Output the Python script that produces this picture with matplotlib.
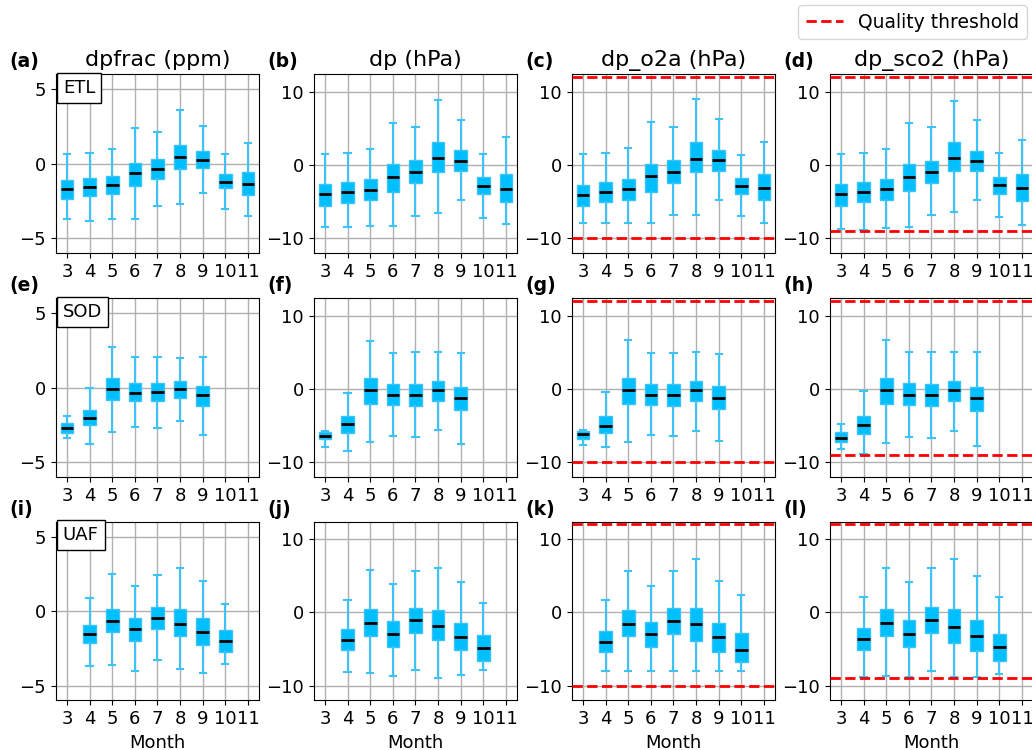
import matplotlib
matplotlib.use("Agg")
import matplotlib.pyplot as plt
from matplotlib.lines import Line2D

months = [3, 4, 5, 6, 7, 8, 9, 10, 11]
month_labels = ["3", "4", "5", "6", "7", "8", "9", "10", "11"]

titles = ["dpfrac (ppm)", "dp (hPa)", "dp_o2a (hPa)", "dp_sco2 (hPa)"]
sites = ["ETL", "SOD", "UAF"]
panel_letters = ["a", "b", "c", "d", "e", "f", "g", "h", "i", "j", "k", "l"]

# each entry: (whislo, q1, med, q3, whishi) per month; None = no data
# ---- ETL ----
etl_dpfrac = [(-3.70, -2.40, -1.70, -1.08, 0.63), (-3.88, -2.17, -1.59, -0.96, 0.74),
              (-3.74, -2.02, -1.41, -0.81, 0.99), (-3.72, -1.50, -0.65, 0.07, 2.38),
              (-2.85, -1.01, -0.38, 0.29, 2.13), (-2.69, -0.34, 0.45, 1.28, 3.63),
              (-1.97, -0.31, 0.27, 0.85, 2.51), (-3.05, -1.66, -1.21, -0.72, 0.67),
              (-3.52, -2.11, -1.37, -0.54, 1.41)]
etl_dp = [(-8.45, -5.64, -4.00, -2.64, 1.45), (-8.45, -5.18, -3.73, -2.36, 1.68),
          (-8.27, -4.82, -3.36, -1.95, 2.23), (-8.36, -3.64, -1.64, 0.18, 5.73),
          (-6.91, -2.50, -0.95, 0.64, 5.18), (-6.55, -0.91, 0.95, 3.09, 8.91),
          (-4.82, -0.86, 0.59, 2.00, 6.14), (-7.18, -3.95, -2.86, -1.68, 1.55),
          (-8.05, -5.00, -3.23, -1.27, 3.82)]
etl_o2a = [(-7.92, -5.66, -4.07, -2.76, 1.49), (-7.92, -5.11, -3.71, -2.35, 1.58),
           (-7.92, -4.75, -3.26, -1.95, 2.26), (-7.92, -3.62, -1.49, 0.18, 5.84),
           (-6.79, -2.44, -0.95, 0.68, 5.20), (-6.79, -1.00, 0.86, 3.12, 9.05),
           (-4.75, -0.81, 0.63, 2.08, 6.20), (-6.97, -3.94, -2.85, -1.72, 1.31),
           (-7.92, -4.80, -3.17, -1.18, 3.17)]
etl_sco2 = [(-8.78, -5.63, -3.92, -2.57, 1.49), (-8.92, -5.09, -3.69, -2.39, 1.67),
            (-8.56, -4.82, -3.29, -1.98, 2.21), (-8.51, -3.60, -1.62, 0.14, 5.68),
            (-6.80, -2.43, -0.95, 0.59, 5.14), (-6.44, -0.86, 0.99, 3.06, 8.74),
            (-4.73, -0.81, 0.59, 1.94, 6.08), (-7.16, -3.92, -2.79, -1.71, 1.58),
            (-8.20, -4.91, -3.20, -1.26, 3.33)]
# ---- SOD ----
sod_dpfrac = [(-3.38, -3.02, -2.71, -2.37, -1.92), (-3.79, -2.53, -2.01, -1.47, -0.01),
              (-2.98, -0.84, -0.06, 0.62, 2.73), (-2.66, -0.89, -0.33, 0.30, 2.08),
              (-2.71, -0.93, -0.30, 0.30, 2.08), (-2.24, -0.69, -0.08, 0.44, 2.01),
              (-3.18, -1.21, -0.51, 0.12, 2.06), None, None]
sod_dp = [(-7.93, -6.85, -6.40, -5.86, -5.77), (-8.42, -5.99, -4.82, -3.65, -0.50),
          (-7.21, -2.07, -0.14, 1.49, 6.58), (-6.35, -2.21, -0.77, 0.72, 4.86),
          (-6.53, -2.30, -0.81, 0.72, 5.05), (-5.63, -1.67, -0.18, 1.08, 5.05),
          (-7.52, -2.88, -1.22, 0.27, 4.86), None, None]
sod_o2a = [(-7.61, -6.76, -6.13, -5.68, -5.63), (-7.93, -5.99, -5.00, -3.69, -0.41),
           (-7.21, -2.07, -0.14, 1.49, 6.62), (-6.26, -2.21, -0.77, 0.68, 4.91),
           (-6.44, -2.30, -0.77, 0.68, 4.95), (-5.68, -1.71, -0.18, 1.08, 5.00),
           (-7.16, -2.70, -1.17, 0.36, 4.77), None, None]
sod_sco2 = [(-8.24, -7.25, -6.62, -5.81, -4.73), (-8.87, -6.08, -4.95, -3.65, -0.23),
            (-7.30, -2.07, -0.09, 1.49, 6.71), (-6.53, -2.25, -0.77, 0.77, 5.09),
            (-6.62, -2.30, -0.77, 0.72, 5.09), (-5.68, -1.67, -0.18, 1.08, 5.09),
            (-7.75, -3.02, -1.17, 0.32, 5.09), None, None]
# ---- UAF ----
uaf_dpfrac = [None, (-3.72, -2.17, -1.52, -0.93, 0.87), (-3.61, -1.38, -0.64, 0.17, 2.51),
              (-4.03, -1.99, -1.22, -0.48, 1.70), (-3.29, -1.18, -0.46, 0.28, 2.39),
              (-3.88, -1.70, -0.87, 0.17, 2.91), (-4.19, -2.26, -1.38, -0.48, 2.03),
              (-3.54, -2.73, -1.99, -1.27, 0.44), None]
uaf_dp = [None, (-8.19, -5.17, -3.72, -2.28, 1.74), (-8.24, -3.23, -1.47, 0.47, 5.76),
          (-8.65, -4.67, -2.91, -1.20, 3.91), (-7.88, -2.87, -1.11, 0.65, 5.67),
          (-8.92, -3.81, -1.92, 0.25, 6.03), (-8.56, -5.12, -3.32, -1.42, 4.09),
          (-7.92, -6.61, -4.81, -3.09, 1.24), None]
uaf_o2a = [None, (-7.97, -5.40, -4.00, -2.51, 1.69), (-7.97, -3.23, -1.56, 0.38, 5.58),
           (-7.97, -4.67, -3.00, -1.33, 3.59), (-7.97, -2.96, -1.20, 0.56, 5.62),
           (-7.97, -3.95, -1.60, 0.61, 7.25), (-7.97, -5.35, -3.41, -1.47, 4.27),
           (-7.97, -6.79, -5.08, -2.87, 2.37), None]
uaf_sco2 = [None, (-8.78, -5.12, -3.59, -2.10, 2.14), (-8.65, -3.23, -1.42, 0.52, 6.07),
            (-8.78, -4.76, -2.91, -1.11, 4.18), (-8.01, -2.78, -1.02, 0.79, 6.03),
            (-8.78, -4.18, -2.01, 0.47, 7.25), (-8.87, -5.26, -3.27, -1.06, 4.90),
            (-8.38, -6.66, -4.76, -3.00, 2.05), None]

panels = [[etl_dpfrac, etl_dp, etl_o2a, etl_sco2],
          [sod_dpfrac, sod_dp, sod_o2a, sod_sco2],
          [uaf_dpfrac, uaf_dp, uaf_o2a, uaf_sco2]]

# quality thresholds per column (None = no threshold)
thresholds = [None, None, (-10, 12), (-9, 12)]
ylims = [(-6, 6), (-12, 12.35), (-12, 12.35), (-12, 12.35)]
yticks = [[-5, 0, 5], [-10, 0, 10], [-10, 0, 10], [-10, 0, 10]]

BOX = "#00BFFF"
WHISK = "#3CC3F7"

fig = plt.figure(figsize=(10.32, 7.5), dpi=100)
W, H = 1032.0, 750.0
col_left = [55.7, 313.7, 571.7, 829.7]
ax_w = 203.5
row_top = [74.3, 298.3, 521.7]
ax_h = 178.7

k = 0
for r in range(3):
    for c in range(4):
        ax = fig.add_axes([col_left[c] / W, 1 - (row_top[r] + ax_h) / H, ax_w / W, ax_h / H])
        stats = []
        pos = []
        for m, s in zip(months, panels[r][c]):
            if s is None:
                continue
            lo, q1, med, q3, hi = s
            stats.append(dict(whislo=lo, q1=q1, med=med, q3=q3, whishi=hi, fliers=[]))
            pos.append(m)
        ax.bxp(stats, positions=pos, widths=0.56, patch_artist=True, showfliers=False,
               boxprops=dict(facecolor=BOX, edgecolor=WHISK, linewidth=1.0),
               whiskerprops=dict(color=WHISK, linewidth=1.5),
               capprops=dict(color=WHISK, linewidth=1.5),
               medianprops=dict(color="black", linewidth=2.0))
        ax.set_xlim(2.5, 11.5)
        ax.set_xticks(months)
        ax.set_xticklabels(month_labels)
        ax.set_ylim(*ylims[c])
        ax.set_yticks(yticks[c])
        ax.tick_params(labelsize=13)
        ax.grid(True, color="#b0b0b0", linewidth=1.0)
        ax.set_axisbelow(True)
        if thresholds[c] is not None:
            for t in thresholds[c]:
                ax.axhline(t, color="red", linestyle="--", linewidth=2, zorder=5)
        if r == 0:
            ax.set_title(titles[c], fontsize=16, pad=6)
        if r == 2:
            ax.set_xlabel("Month", fontsize=13)
        if c == 0:
            ax.text(0.035, 0.975, sites[r], transform=ax.transAxes, fontsize=13,
                    va="top", ha="left",
                    bbox=dict(facecolor="white", edgecolor="black", boxstyle="square,pad=0.33"))
        ax.text(-0.228, 1.07, "(" + panel_letters[k] + ")", transform=ax.transAxes,
                fontsize=13.5, fontweight="bold", va="center", ha="left")
        k += 1

handle = Line2D([0], [0], color="red", linestyle="--", linewidth=2)
fig.legend([handle], ["Quality threshold"], loc="upper right",
           bbox_to_anchor=(1027 / W, 1 - 5 / H), borderaxespad=0,
           fontsize=13.5, frameon=True)

fig.savefig("out.png", dpi=100)
